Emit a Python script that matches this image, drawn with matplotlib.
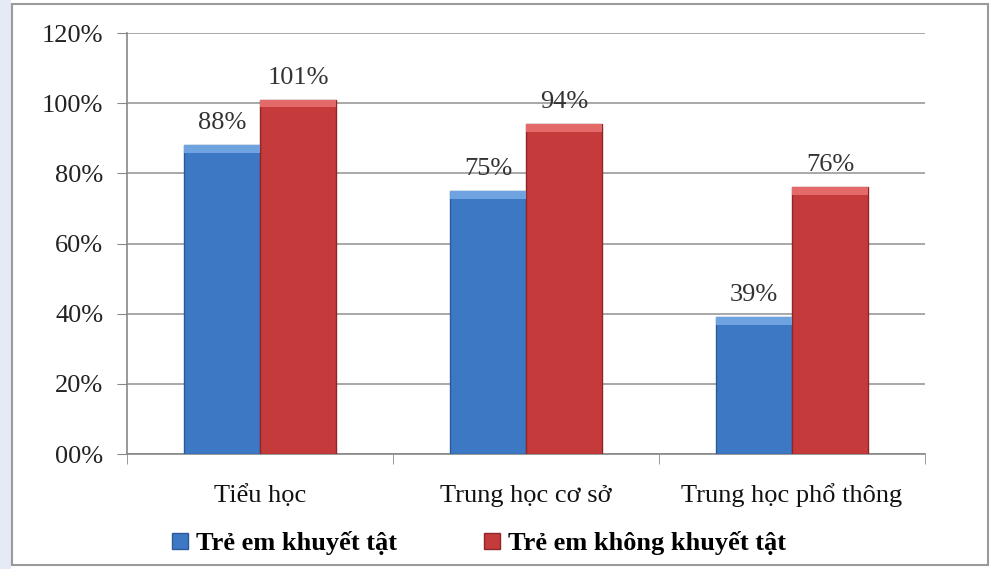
import numpy as np
import matplotlib.pyplot as plt
from matplotlib.patches import Rectangle

plt.rcParams['font.family'] = ['Liberation Serif', 'DejaVu Serif']

categories = ['Tiểu học', 'Trung học cơ sở', 'Trung học phổ thông']
disabled = [88, 75, 39]
not_disabled = [101, 94, 76]
series_names = ['Trẻ em khuyết tật', 'Trẻ em không khuyết tật']
ytick_labels = ['00%', '20%', '40%', '60%', '80%', '100%', '120%']

blue = '#3d78c4'
red = '#c53b3c'
fs = 19

fig = plt.figure(figsize=(9.94, 5.69), dpi=100)
# left strip and outer frame, like the pasted chart
fig.patches.append(Rectangle((0, 0), 0.011, 1, transform=fig.transFigure,
                             facecolor='#e6eaf4', edgecolor='none', zorder=0))
fig.patches.append(Rectangle((0.012, 0.007), 0.982, 0.986, transform=fig.transFigure,
                             facecolor='none', edgecolor='#9a9a9a', linewidth=1.5, zorder=5))

ax = fig.add_axes([0.1278, 0.202, 0.8028, 0.740])

x = np.arange(len(categories))
w = 0.286
b1 = ax.bar(x - w / 2, disabled, w, color=blue, edgecolor='#2b5a99', linewidth=1.0,
            label=series_names[0], zorder=3)
b2 = ax.bar(x + w / 2, not_disabled, w, color=red, edgecolor='#8e2526', linewidth=1.0,
            label=series_names[1], zorder=3)

# light bevel on top of each bar
for bars, hi in ((b1, '#6fa3e0'), (b2, '#e46a6a')):
    for r in bars:
        ax.bar(r.get_x() + r.get_width() / 2, 2.2, r.get_width(), bottom=r.get_height() - 2.2,
               color=hi, edgecolor='none', zorder=4)

for bars, vals in ((b1, disabled), (b2, not_disabled)):
    for r, v in zip(bars, vals):
        ax.annotate(f'{v}%', (r.get_x() + r.get_width() / 2, v), xytext=(0, 8),
                    textcoords='offset points', ha='center', va='bottom',
                    fontsize=fs, color='#333333')

ax.set_ylim(0, 120)
ax.set_yticks(np.arange(0, 121, 20))
ax.set_yticklabels(ytick_labels, fontsize=fs, color='#222222')
ax.set_xlim(-0.5, 2.5)
ax.set_xticks(x)
ax.set_xticklabels([])
for xi, c in zip(x, categories):
    ax.text(xi, -0.115, c, transform=ax.get_xaxis_transform(), ha='center',
            va='baseline', fontsize=fs, color='#111111')
ax.set_xticks([-0.5, 0.5, 1.5, 2.5], minor=True)
ax.tick_params(axis='x', which='major', length=0)
ax.tick_params(axis='x', which='minor', length=7, color='#888888')
ax.tick_params(axis='y', length=7, color='#888888', pad=10)

ax.grid(axis='y', color='#999999', linewidth=1.2, zorder=0)
for s in ['top', 'right']:
    ax.spines[s].set_visible(False)
for s in ['left', 'bottom']:
    ax.spines[s].set_color('#888888')
    ax.spines[s].set_linewidth(1.2)

leg = fig.legend(handles=[b1, b2], labels=series_names, loc='center',
                 bbox_to_anchor=(0.482, 0.045), ncol=2, frameon=False,
                 prop={'weight': 'bold', 'size': fs}, handlelength=0.6,
                 handleheight=0.6, handletextpad=0.3, columnspacing=3.3)

fig.savefig('out.png', dpi=100)
